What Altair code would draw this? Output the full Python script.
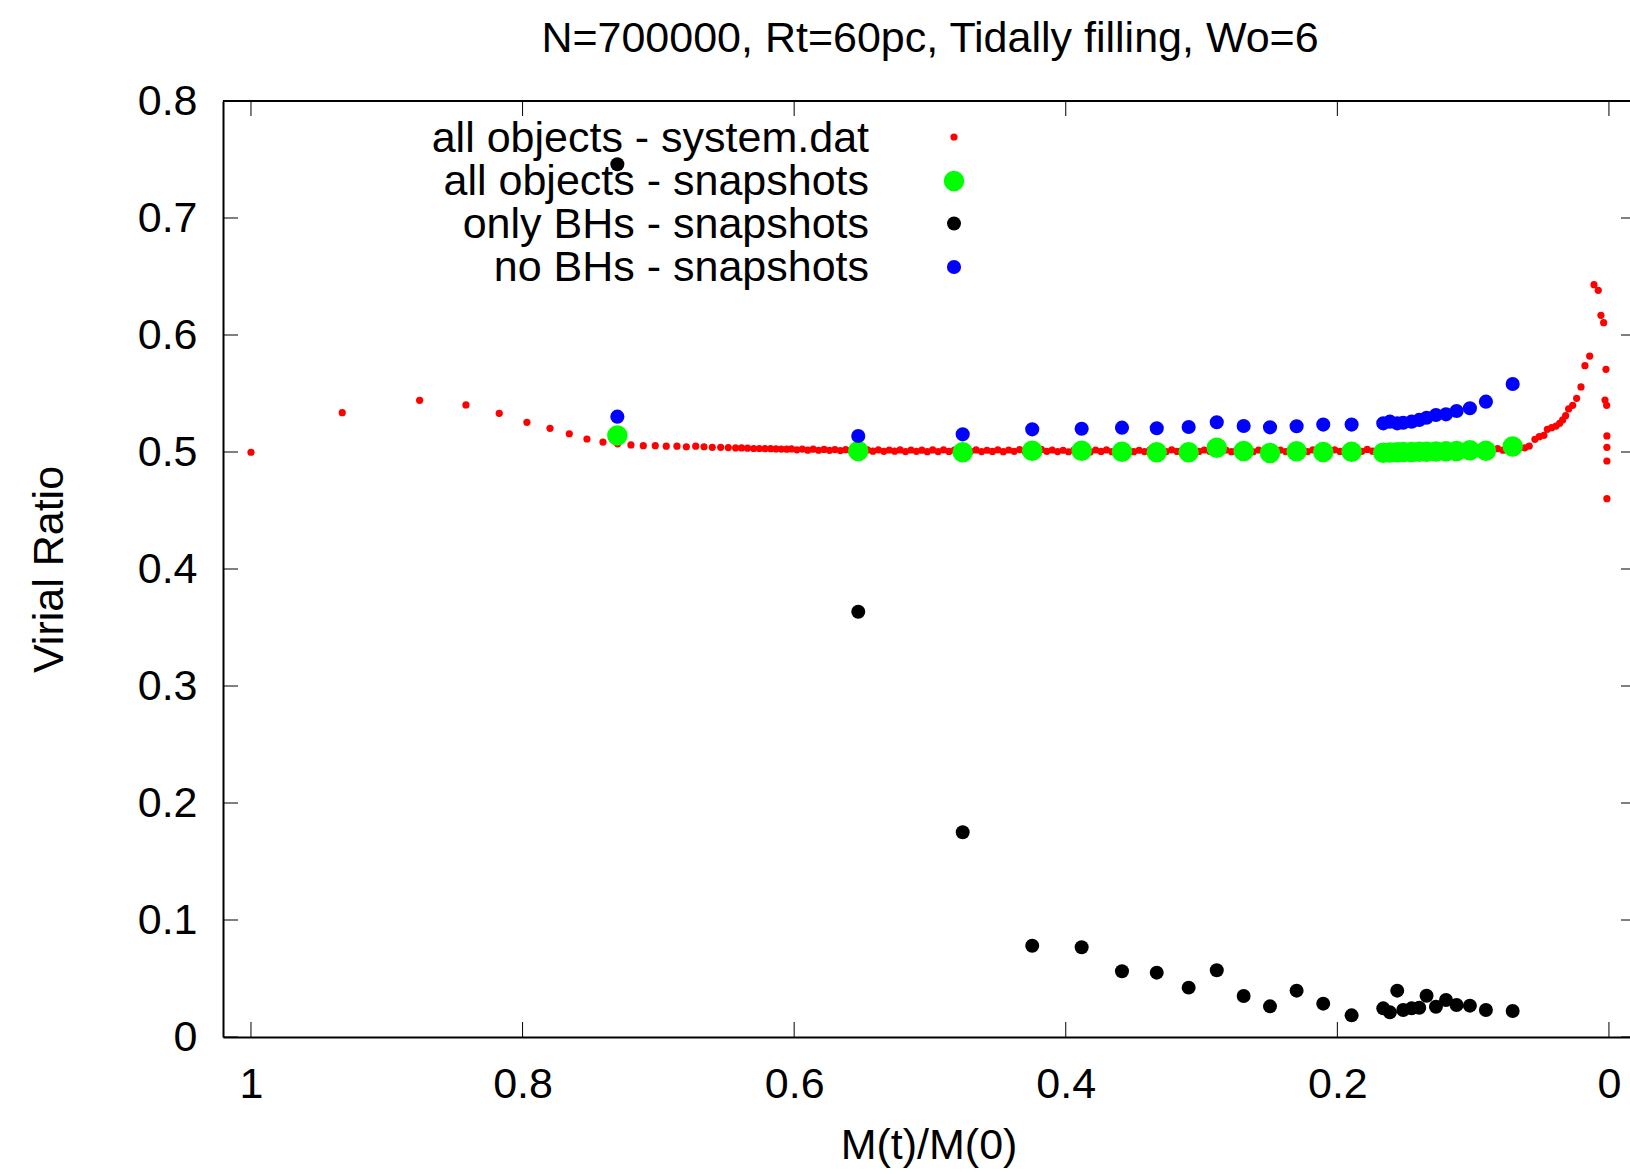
import altair as alt
import pandas as pd

# ---------------- text ----------------
TITLE = "N=700000, Rt=60pc, Tidally filling, Wo=6"
X_TITLE = "M(t)/M(0)"
Y_TITLE = "Virial Ratio"
legend_labels = ["all objects - system.dat", "all objects - snapshots",
                 "only BHs - snapshots", "no BHs - snapshots"]
x_ticks = [1, 0.8, 0.6, 0.4, 0.2, 0]
y_ticks = [0, 0.1, 0.2, 0.3, 0.4, 0.5, 0.6, 0.7, 0.8]

# ---------------- system.dat (red) ----------------
sys_x_early = [1.0, 0.9328, 0.8758, 0.8417, 0.8172, 0.7968, 0.7798, 0.7656, 0.7526, 0.7408,
               0.7300, 0.7202, 0.7111, 0.7023, 0.6942, 0.6863, 0.6794, 0.6725, 0.6664, 0.6603,
               0.6541, 0.6485, 0.6431, 0.6387, 0.6343, 0.6298, 0.6257, 0.6215, 0.6173, 0.6134,
               0.6095, 0.6055]
sys_y_early = [0.4998, 0.5336, 0.5442, 0.5402, 0.5331, 0.5254, 0.5202, 0.5156, 0.5111, 0.5085,
               0.5070, 0.5060, 0.5054, 0.5054, 0.5050, 0.5050, 0.5045, 0.5050, 0.5045, 0.5040,
               0.5040, 0.5038, 0.5035, 0.5035, 0.5033, 0.5030, 0.5030, 0.5028, 0.5028, 0.5026,
               0.5025, 0.5024]

sys_x_band = [0.602, 0.598, 0.594, 0.590, 0.586, 0.582, 0.578, 0.574, 0.570, 0.566,
              0.562, 0.558, 0.554, 0.550, 0.546, 0.542, 0.538, 0.534, 0.530, 0.526,
              0.522, 0.518, 0.514, 0.510, 0.506, 0.502, 0.498, 0.494, 0.490, 0.486,
              0.482, 0.478, 0.474, 0.470, 0.466, 0.462, 0.458, 0.454, 0.450, 0.446,
              0.442, 0.438, 0.434, 0.430, 0.426, 0.422, 0.418, 0.414, 0.410, 0.406,
              0.402, 0.398, 0.394, 0.390, 0.386, 0.382, 0.378, 0.374, 0.370, 0.366,
              0.362, 0.358, 0.354, 0.350, 0.346, 0.342, 0.338, 0.334, 0.330, 0.326,
              0.322, 0.318, 0.314, 0.310, 0.306, 0.302, 0.298, 0.294, 0.290, 0.286,
              0.282, 0.278, 0.274, 0.270, 0.266, 0.262, 0.258, 0.254, 0.250, 0.246,
              0.242, 0.238, 0.234, 0.230, 0.226, 0.222, 0.218, 0.214, 0.210, 0.206,
              0.202, 0.198, 0.194, 0.190, 0.186, 0.182, 0.178, 0.174, 0.170, 0.166,
              0.162, 0.158, 0.154, 0.150, 0.146, 0.142, 0.138, 0.134, 0.130, 0.126,
              0.122, 0.118, 0.114, 0.110, 0.106, 0.102, 0.098, 0.094, 0.090, 0.086,
              0.082, 0.078, 0.074, 0.070, 0.066, 0.062]
sys_y_band = [0.5026, 0.5019, 0.5025, 0.5016, 0.5024, 0.5015, 0.5022, 0.5014, 0.5021, 0.5012,
              0.5020, 0.5011, 0.5019, 0.5008, 0.5018, 0.5007, 0.5019, 0.5006, 0.5017, 0.5007,
              0.5018, 0.5004, 0.5017, 0.5006, 0.5016, 0.5003, 0.5018, 0.5004, 0.5019, 0.5005,
              0.5016, 0.5003, 0.5019, 0.5006, 0.5018, 0.5004, 0.5015, 0.5005, 0.5019, 0.5003,
              0.5017, 0.5006, 0.5021, 0.5005, 0.5018, 0.5007, 0.5022, 0.5006, 0.5017, 0.5004,
              0.5015, 0.5002, 0.5017, 0.5004, 0.5016, 0.5001, 0.5017, 0.5005, 0.5018, 0.5003,
              0.5016, 0.5006, 0.5018, 0.5003, 0.5015, 0.5004, 0.5019, 0.5006, 0.5017, 0.5004,
              0.5019, 0.5005, 0.5016, 0.5003, 0.5019, 0.5005, 0.5017, 0.5006, 0.5021, 0.5005,
              0.5017, 0.5003, 0.5018, 0.5005, 0.5016, 0.5002, 0.5017, 0.5004, 0.5019, 0.5006,
              0.5017, 0.5004, 0.5020, 0.5005, 0.5017, 0.5004, 0.5019, 0.5003, 0.5018, 0.5006,
              0.5019, 0.5005, 0.5020, 0.5007, 0.5018, 0.5006, 0.5022, 0.5007, 0.5020, 0.5008,
              0.5022, 0.5008, 0.5023, 0.5009, 0.5021, 0.5010, 0.5024, 0.5009, 0.5023, 0.5011,
              0.5023, 0.5011, 0.5024, 0.5010, 0.5025, 0.5012, 0.5024, 0.5012, 0.5027, 0.5013,
              0.5028, 0.5016, 0.5030, 0.5020, 0.5033, 0.5036]

sys_x_tail = [0.0587, 0.0545, 0.0513, 0.0479, 0.0454, 0.0422, 0.0390, 0.0363, 0.0341, 0.0319,
              0.0297, 0.0267, 0.0238, 0.0206, 0.0177, 0.0142, 0.0110, 0.0079, 0.0059, 0.0039,
              0.0022, 0.0029, 0.0017, 0.0015, 0.0015, 0.0015, 0.0015]
sys_y_tail = [0.5051, 0.5108, 0.5131, 0.5143, 0.5194, 0.5208, 0.5222, 0.5245, 0.5274, 0.5310,
              0.5368, 0.5399, 0.5459, 0.5556, 0.5738, 0.5820, 0.6430, 0.6382, 0.6168, 0.6105,
              0.5707, 0.5444, 0.5399, 0.5137, 0.5040, 0.4923, 0.4601]

# ---------------- snapshots ----------------
snap_x = [0.7302, 0.5528, 0.4759, 0.4247, 0.3883, 0.3586, 0.3330, 0.3095, 0.2888, 0.2690,
          0.2496, 0.2300, 0.2104, 0.1895, 0.1662, 0.1613, 0.1559, 0.1515, 0.1453, 0.1397,
          0.1343, 0.1274, 0.1200, 0.1122, 0.1024, 0.0906, 0.0709]
snap_all = [0.5142, 0.5009, 0.4997, 0.5011, 0.5011, 0.5003, 0.4997, 0.4997, 0.5037, 0.5009,
            0.4991, 0.5006, 0.5000, 0.5003, 0.4994, 0.4996, 0.4998, 0.5000, 0.5001, 0.5002,
            0.5003, 0.5004, 0.5006, 0.5008, 0.5015, 0.5010, 0.5046]
snap_bh = [0.7459, 0.3635, 0.1750, 0.0780, 0.0767, 0.0562, 0.0550, 0.0422, 0.0570, 0.0350,
           0.0262, 0.0396, 0.0285, 0.0185, 0.0245, 0.0211, 0.0396, 0.0231, 0.0245, 0.0250,
           0.0353, 0.0259, 0.0316, 0.0274, 0.0268, 0.0231, 0.0222]
snap_nobh = [0.5302, 0.5137, 0.5151, 0.5194, 0.5199, 0.5208, 0.5203, 0.5214, 0.5254, 0.5222,
             0.5211, 0.5220, 0.5234, 0.5234, 0.5245, 0.5259, 0.5245, 0.5250, 0.5259, 0.5274,
             0.5293, 0.5316, 0.5322, 0.5350, 0.5374, 0.5430, 0.5581]

# ---------------- build ----------------
FONT = "Liberation Sans"
FS = 43
W, H = 1407, 936
TICK = 15
S_RED, S_GREEN, S_BLACK, S_BLUE = 52, 420, 195, 200

df_sys = pd.DataFrame({"x": sys_x_early + sys_x_band + sys_x_tail,
                       "y": sys_y_early + sys_y_band + sys_y_tail})
df_snap = pd.DataFrame({"x": snap_x, "all": snap_all, "bh": snap_bh, "nobh": snap_nobh})
one = pd.DataFrame({"a": [0]})

xscale = alt.Scale(domain=[-0.0155, 1.0206], reverse=True, nice=False, zero=False)
yscale = alt.Scale(domain=[0, 0.8], nice=False, zero=False)

lab_expr = "datum.value == 0 ? '0' : (datum.value == 1 ? '1' : format(datum.value, '.1f'))"

x_axis = alt.Axis(values=x_ticks, title=X_TITLE, labelExpr=lab_expr, grid=False,
                  ticks=False, tickSize=0, domain=True, domainColor="black", domainWidth=2,
                  labelFont=FONT, labelFontSize=FS, labelColor="black", labelPadding=26,
                  labelFlush=False, labelOverlap=False, labelBound=False,
                  titleFont=FONT, titleFontSize=FS, titleFontWeight="normal", titleColor="black",
                  titleX=W / 2 + 2, titleY=121, titleBaseline="alphabetic", titleAlign="center")
y_axis = alt.Axis(values=y_ticks, title=Y_TITLE, labelExpr=lab_expr, grid=False,
                  ticks=False, tickSize=0, domain=True, domainColor="black", domainWidth=2,
                  labelFont=FONT, labelFontSize=FS, labelColor="black", labelPadding=26,
                  labelFlush=False, labelOverlap=False, labelBound=False,
                  titleFont=FONT, titleFontSize=FS, titleFontWeight="normal", titleColor="black",
                  titleX=-161, titleY=H / 2, titleAngle=270, titleBaseline="alphabetic",
                  titleAlign="center")


def X(field):
    return alt.X(field, scale=xscale, axis=x_axis)


def Y(field):
    return alt.Y(field, scale=yscale, axis=y_axis)


red = alt.Chart(df_sys).mark_circle(color="#ff0000", size=S_RED, opacity=1).encode(
    x=X("x:Q"), y=Y("y:Q"))
green = alt.Chart(df_snap).mark_circle(color="#00ff00", size=S_GREEN, opacity=1).encode(
    x=X("x:Q"), y=Y("all:Q"))
black = alt.Chart(df_snap).mark_circle(color="#000000", size=S_BLACK, opacity=1).encode(
    x=X("x:Q"), y=Y("bh:Q"))
blue = alt.Chart(df_snap).mark_circle(color="#0000ff", size=S_BLUE, opacity=1).encode(
    x=X("x:Q"), y=Y("nobh:Q"))

# frame: top border + inward ticks (gnuplot style)
top_border = alt.Chart(one).mark_rule(color="black", strokeWidth=2).encode(
    x=alt.value(0), x2=alt.value(W), y=alt.value(0))
xt = pd.DataFrame({"x": x_ticks})
yt = pd.DataFrame({"y": y_ticks})
tick_bottom = alt.Chart(xt).mark_rule(color="black", strokeWidth=1).encode(
    x=X("x:Q"), y=alt.value(H), y2=alt.value(H - TICK))
tick_top = alt.Chart(xt).mark_rule(color="black", strokeWidth=1).encode(
    x=X("x:Q"), y=alt.value(0), y2=alt.value(TICK))
tick_left = alt.Chart(yt).mark_rule(color="black", strokeWidth=1).encode(
    y=Y("y:Q"), x=alt.value(0), x2=alt.value(TICK))
tick_right = alt.Chart(yt).mark_rule(color="black", strokeWidth=1).encode(
    y=Y("y:Q"), x=alt.value(W - 9), x2=alt.value(W))

title_txt = alt.Chart(one).mark_text(font=FONT, fontSize=FS, color="black", align="center",
                                     baseline="alphabetic").encode(
    x=alt.value(707), y=alt.value(-49), text=alt.value(TITLE))

# legend (text left, symbol right, as gnuplot)
leg_colors = ["#ff0000", "#00ff00", "#000000", "#0000ff"]
leg_sizes = [S_RED, S_GREEN, S_BLACK, S_BLUE]
leg_base = [51, 94, 137, 180]
leg_center = [36, 80, 122.5, 166]
leg_layers = []
for lab, col, sz, yb, yc in zip(legend_labels, leg_colors, leg_sizes, leg_base, leg_center):
    leg_layers.append(alt.Chart(one).mark_text(font=FONT, fontSize=FS, color="black",
                                               align="right", baseline="alphabetic").encode(
        x=alt.value(646), y=alt.value(yb), text=alt.value(lab)))
    leg_layers.append(alt.Chart(one).mark_circle(color=col, size=sz, opacity=1).encode(
        x=alt.value(731), y=alt.value(yc)))

chart = alt.layer(
    red, green, black, blue,
    top_border, tick_bottom, tick_top, tick_left, tick_right,
    title_txt, *leg_layers
).properties(
    width=W, height=H,
    autosize=alt.AutoSizeParams(type="none"),
    padding={"left": 223, "top": 101, "right": 0, "bottom": 137},
    background="white",
).configure_view(stroke=None)

chart.save("out.html", embed_options={"renderer": "svg", "actions": False})
